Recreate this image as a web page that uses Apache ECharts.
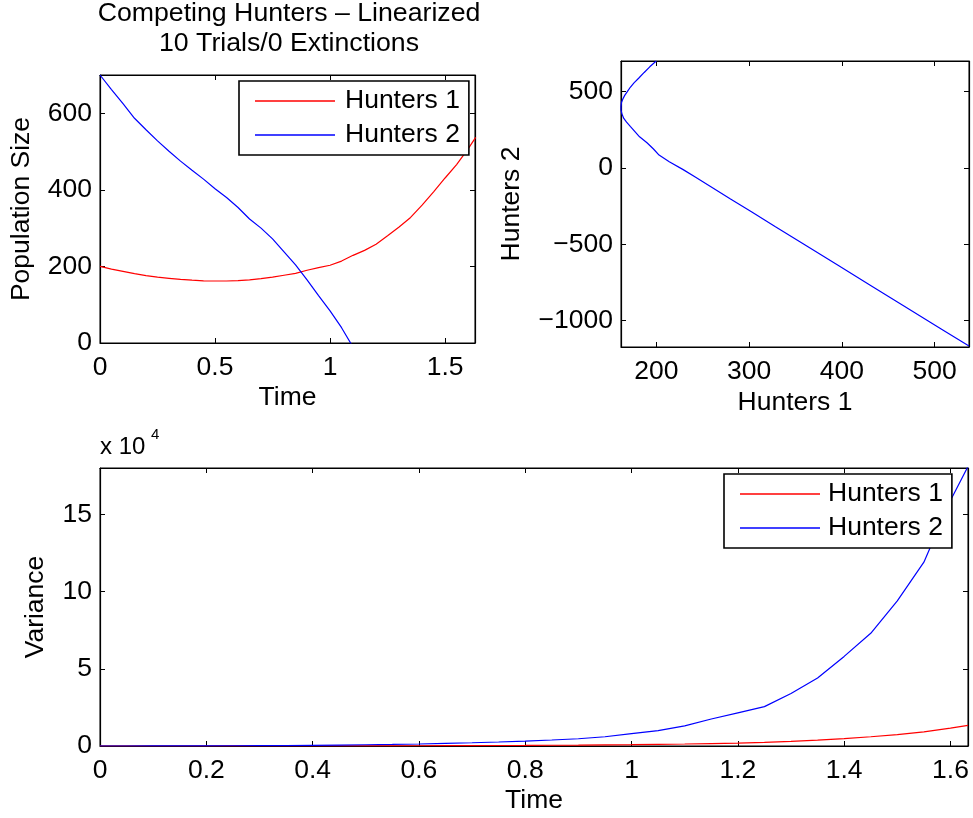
<!DOCTYPE html>
<html>
<head>
<meta charset="utf-8">
<script src="https://cdn.jsdelivr.net/npm/echarts@6/dist/echarts.min.js"></script>
<style>
html,body{margin:0;padding:0;background:#fff;}
#main{width:973px;height:818px;}
</style>
</head>
<body>
<div id="main"></div>
<script>
// ---- data ----
const time = [0,0.05,0.1,0.15,0.2,0.25,0.3,0.35,0.4,0.45,0.5,0.55,0.6,0.65,0.7,0.75,0.8,0.85,0.9,0.95,1.0,1.05,1.1,1.15,1.2,1.25,1.3,1.35,1.4,1.45,1.5,1.55,1.6,1.633];
const hunters1 = [200,193,187,181,176,172,169,166,164,162.5,162,162,163,165,168,172,177,182,190,197,203,214,229,242,258,280,303,328,360,395,431,466,507,537];
const hunters2 = [700,662,625,587,557,528,501,475,451,428,403,380,354,324,300,272,238,204,165,124,84,40,-11,-60,-120,-203,-289,-383,-503,-634,-769,-900,-1054,-1166];
const variance1 = [0,0,3,6,10,20,30,40,50,70,90,120,150,200,250,320,400,500,600,750,900,1100,1300,1600,1900,2400,3000,3800,4800,6000,7400,9200,11600,13400];
const variance2 = [0,10,30,60,100,150,200,300,450,600,800,1000,1300,1700,2100,2600,3200,3900,4700,6000,8000,10000,13000,17500,21500,25500,34000,44000,58000,73000,94000,119000,159000,181000];
const seriesNames = ['Hunters 1','Hunters 2'];
const titleLines = ['Competing Hunters \u2013 Linearized','10 Trials/0 Extinctions'];
const timeTicks1 = [0,0.5,1,1.5];
const popTicks = [0,200,400,600];
const phaseXTicks = [200,300,400,500];
const phaseYTicks = [-1000,-500,0,500];
const timeTicks2 = [0,0.2,0.4,0.6,0.8,1,1.2,1.4,1.6];
const varTicks = [0,50000,100000,150000];

const FONT = '"Liberation Sans", Arial, Helvetica, sans-serif';
const FS = 26.5;
const RED = '#ff0000', BLUE = '#0000ff';
const fmt = v => String(v).replace('-', '\u2212');

function mainAxis(gridIndex, pos, min, max, ticks, name, nameGap, formatter) {
  return {
    type: 'value', gridIndex, position: pos, min, max,
    name, nameLocation: 'middle', nameGap,
    nameTextStyle: {fontSize: FS, fontFamily: FONT, color: '#000'},
    axisLine: {show: true, onZero: false, lineStyle: {color: '#000', width: 1.2}},
    axisTick: {show: true, inside: true, length: 5, customValues: ticks, lineStyle: {color: '#000', width: 1}},
    axisLabel: {show: true, customValues: ticks, fontSize: FS, fontFamily: FONT, color: '#000',
      margin: (pos === 'bottom') ? 11 : 8, formatter: formatter || fmt},
    splitLine: {show: false}
  };
}
function mirrorAxis(gridIndex, pos, min, max, ticks) {
  return {
    type: 'value', gridIndex, position: pos, min, max,
    axisLine: {show: true, onZero: false, lineStyle: {color: '#000', width: 1.2}},
    axisTick: {show: true, inside: true, length: 5, customValues: ticks, lineStyle: {color: '#000', width: 1}},
    axisLabel: {show: false},
    splitLine: {show: false}
  };
}

const xAxes = [
  mainAxis(0, 'bottom', 0, 1.63, timeTicks1, 'Time', 41),
  mirrorAxis(0, 'top', 0, 1.63, timeTicks1),
  mainAxis(1, 'bottom', 162, 537, phaseXTicks, 'Hunters 1', 42),
  mirrorAxis(1, 'top', 162, 537, phaseXTicks),
  mainAxis(2, 'bottom', 0, 1.633, timeTicks2, 'Time', 41),
  mirrorAxis(2, 'top', 0, 1.633, timeTicks2)
];
const yAxes = [
  mainAxis(0, 'left', 0, 700, popTicks, 'Population Size', 65),
  mirrorAxis(0, 'right', 0, 700, popTicks),
  mainAxis(1, 'left', -1172, 700, phaseYTicks, 'Hunters 2', 96),
  mirrorAxis(1, 'right', -1172, 700, phaseYTicks),
  mainAxis(2, 'left', 0, 180000, varTicks, 'Variance', 51, v => String(v / 10000)),
  mirrorAxis(2, 'right', 0, 180000, varTicks)
];

function lineSeries(name, xi, yi, data, color) {
  return {
    type: 'line', name, xAxisIndex: xi, yAxisIndex: yi, data,
    showSymbol: false, symbol: 'none', clip: true, animation: false,
    lineStyle: {color, width: 1.2}, itemStyle: {color}
  };
}

const legendBase = {
  orient: 'vertical', icon: 'rect', itemWidth: 80, itemHeight: 1.5, itemGap: 4,
  padding: [5, 9, 5, 16],
  backgroundColor: '#fff', borderColor: '#000', borderWidth: 1.6,
  textStyle: {fontSize: FS, fontFamily: FONT, color: '#000', lineHeight: 30, padding: [0, 0, 0, 5]},
  data: seriesNames, selectedMode: false
};

const option = {
  animation: false,
  backgroundColor: '#fff',
  grid: [
    {left: 100, top: 75, width: 375, height: 268, show: true, borderColor: '#000', borderWidth: 1, backgroundColor: '#fff'},
    {left: 621, top: 61, width: 348, height: 286, show: true, borderColor: '#000', borderWidth: 1, backgroundColor: '#fff'},
    {left: 100, top: 468, width: 868, height: 278, show: true, borderColor: '#000', borderWidth: 1, backgroundColor: '#fff'}
  ],
  xAxis: xAxes,
  yAxis: yAxes,
  legend: [
    Object.assign({}, legendBase, {left: 239, top: 81}),
    Object.assign({}, legendBase, {left: 724, top: 474, textStyle: Object.assign({}, legendBase.textStyle, {padding: [0, 0, 0, 3]})})
  ],
  series: [
    lineSeries(seriesNames[0], 0, 0, time.map((t, i) => [t, hunters1[i]]), RED),
    lineSeries(seriesNames[1], 0, 0, time.map((t, i) => [t, hunters2[i]]), BLUE),
    lineSeries('Phase', 2, 2, hunters1.map((h, i) => [h, hunters2[i]]), BLUE),
    lineSeries(seriesNames[0], 4, 4, time.map((t, i) => [t, variance1[i]]), RED),
    lineSeries(seriesNames[1], 4, 4, time.map((t, i) => [t, variance2[i]]), BLUE)
  ],
  graphic: [
    {type: 'text', x: 289, y: 14, style: {text: titleLines[0], fontSize: 26.7, fontFamily: FONT, fill: '#000', align: 'center', verticalAlign: 'middle'}},
    {type: 'text', x: 289, y: 44, style: {text: titleLines[1], fontSize: 26.7, fontFamily: FONT, fill: '#000', align: 'center', verticalAlign: 'middle'}},
    {type: 'text', x: 100, y: 447, style: {text: 'x 10', fontSize: 24, fontFamily: FONT, fill: '#000', align: 'left', verticalAlign: 'middle'}},
    {type: 'text', x: 151, y: 435, style: {text: '4', fontSize: 15, fontFamily: FONT, fill: '#000', align: 'left', verticalAlign: 'middle'}}
  ]
};

const chart = echarts.init(document.getElementById('main'), null, {renderer: 'canvas'});
chart.setOption(option);
</script>
</body>
</html>
